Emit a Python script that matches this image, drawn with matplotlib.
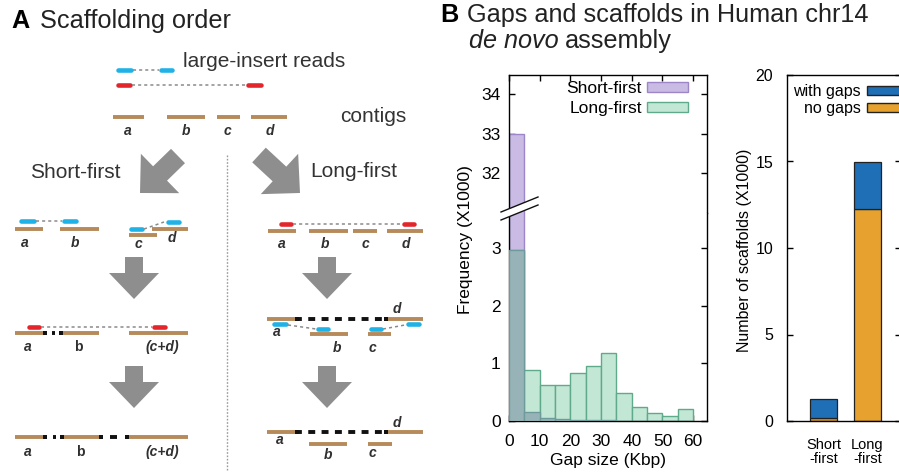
import matplotlib
matplotlib.use('Agg')
import matplotlib.pyplot as plt
from matplotlib.patches import FancyArrow, Patch, Polygon
import numpy as np

plt.rcParams['font.family'] = ['Liberation Sans', 'DejaVu Sans']
plt.rcParams['lines.scale_dashes'] = False

# ---------------- data ----------------
gap_bin_left = [0, 5, 10, 15, 20, 25, 30, 35, 40, 45, 50, 55]
gap_bin_width = 5
short_first_freq = [33.0, 0.15, 0.06, 0.03, 0.02, 0.01, 0.01, 0.005, 0.0, 0.0, 0.0, 0.0]
long_first_freq = [2.97, 0.88, 0.62, 0.62, 0.84, 0.96, 1.18, 0.48, 0.24, 0.14, 0.08, 0.21]
hist_xticks = [0, 10, 20, 30, 40, 50, 60]
hist_upper_yticks = [32, 33, 34]
hist_lower_yticks = [0, 1, 2, 3]

scaffold_methods = ['Short\n-first', 'Long\n-first']
scaffolds_no_gaps = [0.2, 12.25]
scaffolds_with_gaps = [1.05, 2.7]
bar_yticks = [0, 5, 10, 15, 20]

# ---------------- figure ----------------
W, H = 899, 473
fig = plt.figure(figsize=(W / 100, H / 100), dpi=100)


def rect(l, t, r, b):
    return [l / W, 1 - b / H, (r - l) / W, (b - t) / H]


PURPLE_F, PURPLE_E = '#c9bbe4', '#9c86c8'
TEAL_F, TEAL_E = '#c3e7d5', '#5eaa8a'
OVER_F, OVER_E = '#97b3b8', '#6d9b9c'
BLUE, ORANGE = '#1f6fb6', '#e6a12e'
FRAME_LW = 1.0
TICK_LEN = 4.3
TITLE_FS = 18.2

# ---- histogram (broken axis) ----
ax_top = fig.add_axes(rect(509, 75, 707, 213))
ax_bot = fig.add_axes(rect(509, 213, 707, 421))
overlap = np.minimum(short_first_freq, long_first_freq)
for ax in (ax_top, ax_bot):
    ax.bar(gap_bin_left, short_first_freq, width=gap_bin_width, align='edge',
           facecolor=PURPLE_F, edgecolor=PURPLE_E, linewidth=1.0, zorder=2)
    ax.bar(gap_bin_left, long_first_freq, width=gap_bin_width, align='edge',
           facecolor=TEAL_F, edgecolor=TEAL_E, linewidth=1.0, zorder=2)
    ax.bar(gap_bin_left, overlap, width=gap_bin_width, align='edge',
           facecolor=OVER_F, edgecolor=OVER_E, linewidth=1.0, zorder=3)
    ax.set_xlim(0, 64.5)
    ax.set_xticks(hist_xticks)
    for s in ax.spines.values():
        s.set_linewidth(FRAME_LW)
    ax.tick_params(direction='in', length=TICK_LEN, width=1.0, labelsize=12.5,
                   left=True, right=True)
    ax.tick_params(axis='y', pad=6)

ax_top.set_ylim(30.99, 34.48)
ax_top.set_yticks(hist_upper_yticks)
ax_top.spines['bottom'].set_visible(False)
ax_top.tick_params(axis='x', bottom=False, top=True, labelbottom=False)

ax_bot.set_ylim(0, 3.61)
ax_bot.set_yticks(hist_lower_yticks)
ax_bot.spines['top'].set_visible(False)
ax_bot.tick_params(axis='x', bottom=True, top=False, pad=9)

ax_top.legend([Patch(facecolor=PURPLE_F, edgecolor=PURPLE_E),
               Patch(facecolor=TEAL_F, edgecolor=TEAL_E)],
              ['Short-first', 'Long-first'], loc='upper right',
              bbox_to_anchor=(688 / W, 1 - 81 / H), bbox_transform=fig.transFigure,
              frameon=False, markerfirst=False, handlelength=2.35, handleheight=0.5,
              handletextpad=0.3, labelspacing=0.3, borderpad=0, borderaxespad=0,
              fontsize=12.5)

fig.text(465 / W, 1 - 240 / H, 'Frequency (X1000)', rotation=90, ha='center',
         va='center', fontsize=12.5)
fig.text(608 / W, 1 - 460 / H, 'Gap size (Kbp)', ha='center', va='center',
         fontsize=12.5)

# ---- stacked bar chart ----
axb = fig.add_axes(rect(787, 75, 901, 421))
xpos = np.arange(len(scaffold_methods))
axb.bar(xpos, scaffolds_no_gaps, width=0.63, facecolor=ORANGE, edgecolor='#222222',
        linewidth=0.9, zorder=2)
axb.bar(xpos, scaffolds_with_gaps, bottom=scaffolds_no_gaps, width=0.63,
        facecolor=BLUE, edgecolor='#222222', linewidth=0.9, zorder=2)
axb.set_xlim(-0.83, 1.76)
axb.set_ylim(0, 20)
axb.set_yticks(bar_yticks)
axb.set_xticks(xpos)
axb.set_xticklabels(scaffold_methods, fontsize=10.5, linespacing=1.0)
for s in axb.spines.values():
    s.set_linewidth(FRAME_LW)
axb.tick_params(axis='y', direction='in', length=TICK_LEN, width=1.0, labelsize=11.5,
                left=True, right=True, pad=10)
axb.tick_params(axis='x', length=0, pad=12)
axb.legend([Patch(facecolor=BLUE, edgecolor='#222222'),
            Patch(facecolor=ORANGE, edgecolor='#222222')],
           ['with gaps', 'no gaps'], loc='upper right',
           bbox_to_anchor=(909 / W, 1 - 84 / H), bbox_transform=fig.transFigure,
           frameon=False, markerfirst=False, handlelength=2.6, handleheight=0.45,
           handletextpad=0.4, labelspacing=0.12, borderpad=0, borderaxespad=0,
           fontsize=11.5)
fig.text(744 / W, 1 - 250 / H, 'Number of scaffolds (X1000)', rotation=90,
         ha='center', va='center', fontsize=11.5)

# ---------------- overlay: panel A diagram + titles ----------------
ov = fig.add_axes([0, 0, 1, 1], zorder=5)
ov.set_xlim(0, W)
ov.set_ylim(H, 0)
ov.axis('off')
ov.patch.set_alpha(0)

BROWN = '#b68a5a'
RBLUE = '#1fb2e6'
RRED = '#e2262c'
GRAY_ARROW = '#8e8e8e'
LBL = dict(fontsize=10, style='italic', fontweight='bold', color='#303030',
           ha='center', va='center')
LBL_UP = dict(fontsize=10, fontweight='bold', color='#303030', ha='center', va='center')


def contig(x0, x1, y):
    ov.plot([x0, x1], [y, y], color=BROWN, lw=2.8, solid_capstyle='butt')


def read(x0, x1, y, c):
    ov.plot([x0, x1], [y, y], color=c, lw=3.3, solid_capstyle='round')


def link(x0, y0, x1, y1):
    ov.plot([x0, x1], [y0, y1], color='#8a8a8a', lw=1.1, linestyle=(0, (2.2, 2.2)))


def gapline(x0, x1, y):
    ov.plot([x0, x1], [y, y], color='#111111', lw=2.8, linestyle=(1.5, (5.0, 4.6)),
            solid_capstyle='butt', dash_capstyle='butt')


def endpt(x, y):
    ov.plot([x], [y], 's', ms=2.6, color='#111111', markeredgewidth=0)


def gapblock(x0, x1, y):
    ov.plot([x0, x1], [y, y], color='#111111', lw=2.8, solid_capstyle='butt')


def varrow(xc, y0, y1):
    ov.add_patch(FancyArrow(xc, y0, 0, y1 - y0, width=18, head_width=50,
                            head_length=26, length_includes_head=True,
                            facecolor=GRAY_ARROW, edgecolor='none'))


# titles
ov.text(11, 28, 'A', fontsize=TITLE_FS, fontweight='bold', va='baseline')
ov.text(40, 28, 'Scaffolding order', fontsize=TITLE_FS, va='baseline', color='#222222')
ov.text(440, 22, 'B', fontsize=TITLE_FS, fontweight='bold', va='baseline')
ov.text(467, 22, 'Gaps and scaffolds in Human chr14', fontsize=TITLE_FS,
        va='baseline', color='#222222')
ov.text(469, 48, 'de novo', fontsize=TITLE_FS, style='italic', va='baseline',
        color='#222222')
ov.text(565, 48, 'assembly', fontsize=TITLE_FS, va='baseline', color='#222222')

# top: reads and contigs
ov.text(183, 67, 'large-insert reads', fontsize=15, va='baseline', color='#333333')
read(118, 131, 70, RBLUE); read(161, 172, 70, RBLUE); link(133, 70, 159, 70)
read(118, 130, 85, RRED); read(248, 261, 85, RRED); link(132, 85, 246, 85)
contig(113, 144, 117); contig(167, 205, 117); contig(217, 240, 117); contig(251, 287, 117)
for lx, t in [(128, 'a'), (186, 'b'), (227, 'c'), (270, 'd')]:
    ov.text(lx, 131, t, **LBL)
ov.text(340, 122, 'contigs', fontsize=15, va='baseline', color='#333333')

ov.text(30, 178, 'Short-first', fontsize=15, va='baseline', color='#333333')
ov.text(310, 177, 'Long-first', fontsize=15, va='baseline', color='#333333')

# diagonal arrows
ov.add_patch(FancyArrow(178, 156, -38, 37, width=20, head_width=55, head_length=28,
                        length_includes_head=True, facecolor=GRAY_ARROW, edgecolor='none'))
ov.add_patch(FancyArrow(259, 155, 41, 38, width=20, head_width=55, head_length=28,
                        length_includes_head=True, facecolor=GRAY_ARROW, edgecolor='none'))

# separator
ov.plot([227, 227], [155, 470], color='#9a9a9a', lw=1.0, linestyle=(0, (1.2, 1.2)))

# ---- Short-first column ----
# row 2
read(21, 34, 221, RBLUE); read(64, 76, 221, RBLUE); link(36, 221, 62, 221)
contig(15, 43, 229); contig(60, 99, 229)
contig(152, 188, 229); contig(129, 157, 235)
read(131, 142, 229, RBLUE); link(144, 229, 164, 222); read(168, 179, 222, RBLUE)
ov.text(25, 243, 'a', **LBL); ov.text(75, 243, 'b', **LBL)
ov.text(138, 244, 'c', **LBL); ov.text(172, 238, 'd', **LBL)
varrow(134, 257, 299)
# row 3
read(29, 39, 327, RRED); read(154, 165, 327, RRED); link(41, 327, 152, 327)
contig(15, 45, 333); contig(61, 99, 333); contig(129, 188, 333)
endpt(45, 333); gapblock(51.5, 55, 333); endpt(61, 333)
ov.text(28, 347, 'a', **LBL)
ov.text(78, 347, 'b', **LBL_UP)
ov.text(162, 347, '(c+d)', **LBL)
varrow(134, 366, 408)
# row 4
contig(15, 45, 437); contig(62, 101, 437); contig(127, 188, 437)
endpt(45, 437); gapblock(52.5, 56, 437); endpt(62, 437); endpt(101, 437); endpt(127, 437)
gapblock(110, 117, 437)
ov.text(28, 452, 'a', **LBL)
ov.text(80, 452, 'b', **LBL_UP)
ov.text(162, 452, '(c+d)', **LBL)

# ---- Long-first column ----
# row 2
read(281, 291, 224, RRED); read(404, 414, 224, RRED); link(293, 224, 402, 224)
contig(268, 296, 231); contig(309, 348, 231); contig(353, 377, 231); contig(387, 423, 231)
for lx, t in [(282, 'a'), (325, 'b'), (365, 'c'), (406, 'd')]:
    ov.text(lx, 244, t, **LBL)
varrow(327, 257, 299)
# row 3
contig(267, 297, 319); contig(386, 423, 319)
gapline(297, 386, 319); endpt(297, 319); endpt(386, 319)
read(274, 286, 324, RBLUE); link(288, 325, 316, 329); read(318, 328, 329, RBLUE)
read(371, 381, 329, RBLUE); link(383, 329, 405, 325); read(408, 419, 324, RBLUE)
contig(310, 348, 334); contig(368, 391, 334)
ov.text(397, 309, 'd', **LBL); ov.text(277, 332, 'a', **LBL)
ov.text(337, 348, 'b', **LBL); ov.text(372, 348, 'c', **LBL)
varrow(327, 366, 408)
# row 4
contig(267, 297, 432); contig(386, 423, 432)
gapline(297, 386, 432); endpt(297, 432); endpt(386, 432)
contig(309, 347, 444); contig(368, 392, 444)
ov.text(397, 423, 'd', **LBL); ov.text(280, 440, 'a', **LBL)
ov.text(328, 455, 'b', **LBL); ov.text(372, 453, 'c', **LBL)

# axis break marks on histogram
ov.add_patch(Polygon([[501, 212], [538, 197], [538, 205], [501, 220]], closed=True,
                     facecolor='white', edgecolor='none'))
ov.plot([501, 538], [212, 197], color='#111111', lw=1.0)
ov.plot([501, 538], [220, 205], color='#111111', lw=1.0)

fig.savefig('out.png', dpi=100)
